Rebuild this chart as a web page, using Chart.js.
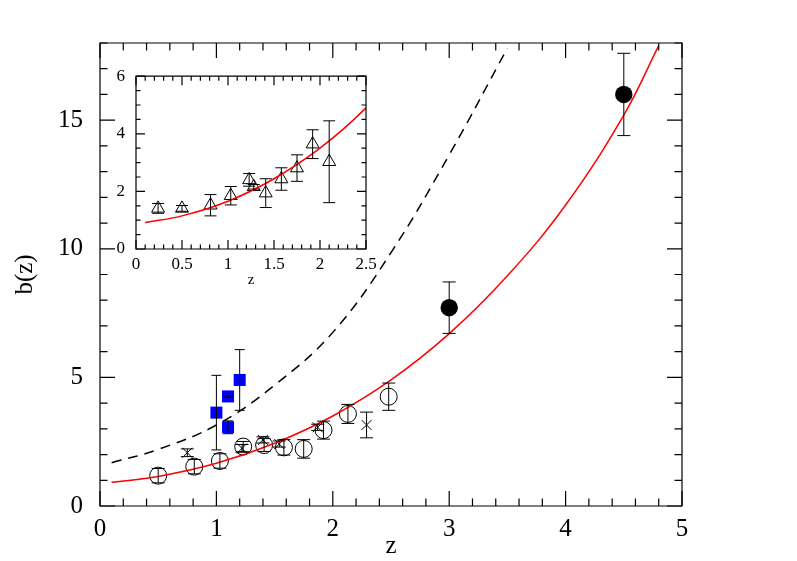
<!DOCTYPE html>
<html><head><meta charset="utf-8">
<script src="https://cdn.jsdelivr.net/npm/chart.js@4/dist/chart.umd.min.js"></script>
<style>
html,body{margin:0;padding:0;background:#fff;}
#wrap{position:relative;width:797px;height:561px;overflow:hidden;}
#main{position:absolute;left:0;top:0;}
#inset{position:absolute;left:85px;top:55px;}
</style></head><body>
<div id="wrap"><canvas id="main" width="797" height="561"></canvas><canvas id="inset" width="300" height="240"></canvas></div>
<script>
// ---- data ----
const openCircleZ   = [0.50, 0.81, 1.03, 1.23, 1.41, 1.58, 1.75, 1.92, 2.13, 2.48];
const openCircleB   = [1.18, 1.53, 1.75, 2.31, 2.37, 2.28, 2.22, 2.95, 3.58, 4.25];
const openCircleErr = [0.28, 0.28, 0.28, 0.20, 0.25, 0.30, 0.36, 0.35, 0.37, 0.53];

const crossZ   = [0.75, 1.22, 1.40, 1.54, 1.87, 2.29];
const crossB   = [2.07, 2.24, 2.57, 2.41, 3.06, 3.15];
const crossErr = [0.15, 0.15, 0.12, 0.12, 0.12, 0.50];

const squareZ   = [1.00, 1.10, 1.10, 1.20];
const squareB   = [3.63, 4.26, 3.06, 4.90];
const squareErr = [1.45, 0.03, 0.25, 1.18];

const filledZ   = [3.0, 4.5];
const filledB   = [7.71, 16.0];
const filledErr = [1.0, 1.6];

const redCurveZ = [0.1, 0.5, 1.0, 1.5, 2.0, 2.5, 3.0, 3.5, 4.0, 4.5, 4.8];
const redCurveB = [0.92, 1.15, 1.66, 2.44, 3.5, 4.9, 6.7, 8.95, 11.7, 15.2, 17.9];

const dashCurveZ = [0.1, 0.5, 1.0, 1.5, 2.0, 2.5, 3.0, 3.5];
const dashCurveB = [1.68, 2.2, 3.15, 4.7, 6.75, 9.85, 13.65, 17.8];

const insetZ   = [0.24, 0.50, 0.81, 1.03, 1.23, 1.28, 1.41, 1.58, 1.75, 1.92, 2.10];
const insetB   = [1.41, 1.41, 1.52, 1.85, 2.40, 2.16, 1.94, 2.43, 2.81, 3.64, 3.03];
const insetErr = [0.17, 0.10, 0.37, 0.32, 0.22, 0.08, 0.50, 0.39, 0.46, 0.50, 1.42];

const mainXTicks = [0, 1, 2, 3, 4, 5];
const mainYTicks = [0, 5, 10, 15];
const insetXTicks = [0, 0.5, 1, 1.5, 2, 2.5];
const insetYTicks = [0, 2, 4, 6];

const pts = (xs, ys) => xs.map((x, i) => ({x, y: ys[i]}));
Chart.defaults.font.family = "'Liberation Serif', 'DejaVu Serif', serif";
Chart.defaults.color = '#000';

// error bars drawn through the scales
const errorBarPlugin = {
  id: 'errorBars',
  afterDatasetsDraw(chart) {
    const ctx = chart.ctx, xs = chart.scales.x, ys = chart.scales.y;
    ctx.save();
    ctx.strokeStyle = '#000';
    ctx.lineWidth = 1;
    chart.data.datasets.forEach(ds => {
      if (!ds.errorBars) return;
      const cap = ds.capHalf || 6;
      ds.data.forEach((p, i) => {
        const e = ds.errorBars[i];
        const px = xs.getPixelForValue(p.x);
        const y1 = ys.getPixelForValue(p.y + e), y2 = ys.getPixelForValue(p.y - e);
        ctx.beginPath();
        ctx.moveTo(px, y1); ctx.lineTo(px, y2);
        ctx.moveTo(px - cap, y1); ctx.lineTo(px + cap, y1);
        ctx.moveTo(px - cap, y2); ctx.lineTo(px + cap, y2);
        ctx.stroke();
      });
    });
    ctx.restore();
  }
};

// frame with inward ticks on all four sides
function framePlugin(cfg) {
  return {
    id: 'frameTicks',
    afterDraw(chart) {
      const ctx = chart.ctx, xs = chart.scales.x, ys = chart.scales.y, a = chart.chartArea;
      ctx.save();
      ctx.strokeStyle = '#000';
      ctx.lineWidth = cfg.lw;
      ctx.beginPath();
      ctx.rect(a.left, a.top, a.right - a.left, a.bottom - a.top);
      ctx.stroke();
      ctx.beginPath();
      const isMajor = (v, m) => Math.abs(v / m - Math.round(v / m)) < 1e-6;
      for (let k = 0; ; k++) {
        const v = xs.min + k * cfg.xMinor;
        if (v > xs.max + 1e-9) break;
        const L = isMajor(v, cfg.xMajor) ? cfg.major : cfg.minor;
        const px = xs.getPixelForValue(v);
        ctx.moveTo(px, a.bottom); ctx.lineTo(px, a.bottom - L);
        ctx.moveTo(px, a.top); ctx.lineTo(px, a.top + L);
      }
      for (let k = 0; ; k++) {
        const v = ys.min + k * cfg.yMinor;
        if (v > ys.max + 1e-9) break;
        const L = isMajor(v, cfg.yMajor) ? cfg.major : cfg.minor;
        const py = ys.getPixelForValue(v);
        ctx.moveTo(a.left, py); ctx.lineTo(a.left + L, py);
        ctx.moveTo(a.right, py); ctx.lineTo(a.right - L, py);
      }
      ctx.stroke();
      ctx.restore();
    }
  };
}

function axis(min, max, ticks, fontSize, pad, fitProp, fitVal, title) {
  return {
    type: 'linear', min, max,
    afterFit(s) { s[fitProp] = fitVal; },
    afterBuildTicks(s) { s.ticks = ticks.map(v => ({value: v})); },
    grid: {display: false, drawTicks: false},
    border: {display: false},
    ticks: {font: {size: fontSize}, color: '#000', padding: pad, maxRotation: 0, autoSkip: false,
            callback: v => String(v)},
    title: title
  };
}

new Chart(document.getElementById('main'), {
  type: 'scatter',
  data: {
    datasets: [
      {data: pts(redCurveZ, redCurveB), showLine: true, borderColor: '#ff0000', borderWidth: 1.5,
       pointRadius: 0, tension: 0.4, fill: false},
      {data: pts(dashCurveZ, dashCurveB), showLine: true, borderColor: '#000', borderWidth: 1.5,
       borderDash: [10, 7], pointRadius: 0, tension: 0.4, fill: false},
      {data: pts(openCircleZ, openCircleB), errorBars: openCircleErr, capHalf: 6.5,
       pointStyle: 'circle', pointRadius: 8.5, borderColor: '#000', borderWidth: 1, backgroundColor: 'rgba(0,0,0,0)'},
      {data: pts(crossZ, crossB), errorBars: crossErr, capHalf: 6.5,
       pointStyle: 'crossRot', pointRadius: 7, borderColor: '#000', borderWidth: 1},
      {data: pts(squareZ, squareB), errorBars: squareErr, capHalf: 5,
       pointStyle: 'rect', pointRadius: 8.5, borderColor: '#0000ff', borderWidth: 0, backgroundColor: '#0000ff'},
      {data: pts(filledZ, filledB), errorBars: filledErr, capHalf: 6.5,
       pointStyle: 'circle', pointRadius: 8.7, borderColor: '#000', borderWidth: 0, backgroundColor: '#000'}
    ]
  },
  options: {
    animation: false, responsive: false, devicePixelRatio: 1,
    layout: {padding: {left: 0, right: 115, top: 43, bottom: 0}},
    plugins: {legend: {display: false}, tooltip: {enabled: false}},
    scales: {
      x: axis(0, 5, mainXTicks, 25, 8, 'height', 55,
              {display: true, text: 'z', font: {size: 25}, padding: {top: 0, bottom: 0}}),
      y: axis(0, 18, mainYTicks, 25, 17, 'width', 100,
              {display: true, text: 'b(z)', font: {size: 25}, padding: {top: 10, bottom: 0}})
    }
  },
  plugins: [errorBarPlugin, framePlugin({xMajor: 1, xMinor: 0.2, yMajor: 5, yMinor: 1, major: 15, minor: 7.5, lw: 1.2})]
});

new Chart(document.getElementById('inset'), {
  type: 'scatter',
  data: {
    datasets: [
      {data: pts(redCurveZ, redCurveB), showLine: true, borderColor: '#ff0000', borderWidth: 1.5,
       pointRadius: 0, tension: 0.4, fill: false},
      {data: pts(insetZ, insetB), errorBars: insetErr, capHalf: 6,
       pointStyle: 'triangle', pointRadius: 7.5, borderColor: '#000', borderWidth: 1, backgroundColor: 'rgba(0,0,0,0)'}
    ]
  },
  options: {
    animation: false, responsive: false, devicePixelRatio: 1,
    layout: {padding: {left: 0, right: 19, top: 13, bottom: 0}},
    plugins: {legend: {display: false}, tooltip: {enabled: false}},
    scales: {
      x: axis(0, 2.5, insetXTicks, 17, 5, 'height', 46,
              {display: true, text: 'z', font: {size: 15}, padding: {top: 6, bottom: 6}}),
      y: axis(0, 6, insetYTicks, 17, 11, 'width', 51, {display: false})
    }
  },
  plugins: [errorBarPlugin, framePlugin({xMajor: 0.5, xMinor: 0.1, yMajor: 2, yMinor: 0.5, major: 9, minor: 4.5, lw: 1.2})]
});
</script>
</body></html>
